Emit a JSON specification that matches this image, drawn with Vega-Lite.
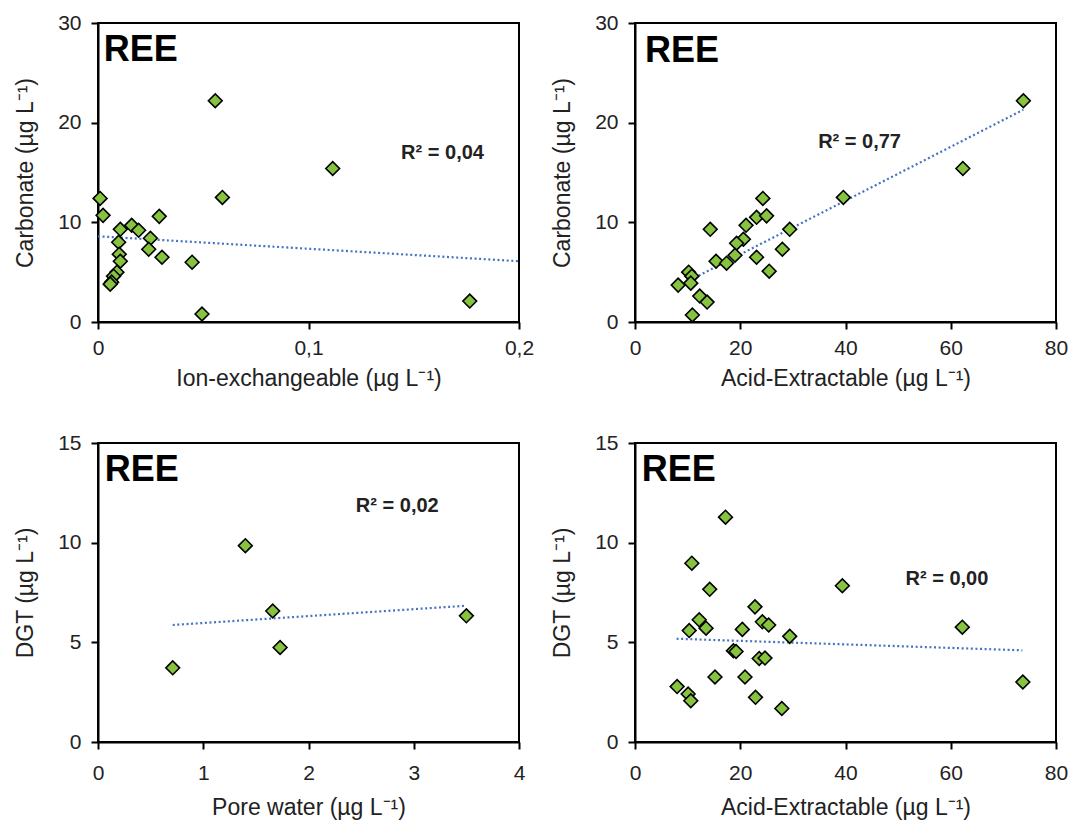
{
  "$schema": "https://vega.github.io/schema/vega-lite/v6.json",
  "background": "white",
  "padding": {"left": 13, "top": 11, "right": 3, "bottom": 5},
  "config": {
    "font": "Liberation Sans",
    "view": {"stroke": "black", "strokeWidth": 2},
    "axis": {
      "grid": false,
      "domainColor": "black",
      "domainWidth": 2,
      "tickColor": "black",
      "tickWidth": 2,
      "tickSize": 7,
      "labelFont": "Liberation Sans",
      "labelFontSize": 21,
      "labelColor": "#222",
      "labelFlush": false,
      "labelOverlap": false,
      "titleFont": "Liberation Sans",
      "titleFontSize": 23,
      "titleFontWeight": "normal",
      "titleColor": "#222"
    },
    "axisX": {"titlePadding": 9, "labelPadding": 8},
    "axisY": {"titlePadding": 20, "labelPadding": 10}
  },
  "datasets": {
    "p1": [
      {"x": 0.0557, "y": 22.2}, {"x": 0.1115, "y": 15.4}, {"x": 0.0591, "y": 12.5},
      {"x": 0.001, "y": 12.4}, {"x": 0.0024, "y": 10.7}, {"x": 0.0291, "y": 10.6},
      {"x": 0.016, "y": 9.7}, {"x": 0.0193, "y": 9.2}, {"x": 0.0106, "y": 9.3},
      {"x": 0.0249, "y": 8.4}, {"x": 0.0098, "y": 8.0}, {"x": 0.0241, "y": 7.3},
      {"x": 0.0101, "y": 6.8}, {"x": 0.0304, "y": 6.5}, {"x": 0.0106, "y": 6.1},
      {"x": 0.0447, "y": 6.0}, {"x": 0.009, "y": 5.0}, {"x": 0.0074, "y": 4.6},
      {"x": 0.0065, "y": 4.0}, {"x": 0.0058, "y": 3.8}, {"x": 0.0494, "y": 0.8},
      {"x": 0.1766, "y": 2.1}
    ],
    "t1": [{"x": 0, "y": 8.6}, {"x": 0.2, "y": 6.1}],
    "p2": [
      {"x": 73.8, "y": 22.2}, {"x": 62.3, "y": 15.4}, {"x": 39.6, "y": 12.5},
      {"x": 24.3, "y": 12.4}, {"x": 23.1, "y": 10.5}, {"x": 25.0, "y": 10.65},
      {"x": 21.1, "y": 9.7}, {"x": 14.3, "y": 9.3}, {"x": 29.4, "y": 9.3},
      {"x": 20.6, "y": 8.3}, {"x": 19.3, "y": 7.9}, {"x": 19.0, "y": 6.7},
      {"x": 28.0, "y": 7.3}, {"x": 15.4, "y": 6.1}, {"x": 17.4, "y": 5.9},
      {"x": 23.1, "y": 6.5}, {"x": 25.5, "y": 5.1}, {"x": 10.2, "y": 5.0},
      {"x": 10.8, "y": 4.6}, {"x": 10.6, "y": 3.9}, {"x": 8.2, "y": 3.7},
      {"x": 12.3, "y": 2.6}, {"x": 13.7, "y": 2.0}, {"x": 10.9, "y": 0.7}
    ],
    "t2": [{"x": 8.2, "y": 3.6}, {"x": 73.8, "y": 21.3}],
    "p3": [
      {"x": 1.40, "y": 9.85}, {"x": 1.66, "y": 6.57}, {"x": 1.73, "y": 4.74},
      {"x": 0.71, "y": 3.72}, {"x": 3.50, "y": 6.33}
    ],
    "t3": [{"x": 0.71, "y": 5.87}, {"x": 3.48, "y": 6.83}],
    "p4": [
      {"x": 17.2, "y": 11.28}, {"x": 10.8, "y": 8.97}, {"x": 39.4, "y": 7.84},
      {"x": 14.2, "y": 7.66}, {"x": 22.8, "y": 6.78}, {"x": 12.2, "y": 6.13},
      {"x": 13.5, "y": 5.71}, {"x": 10.3, "y": 5.59}, {"x": 24.2, "y": 6.03},
      {"x": 25.4, "y": 5.87}, {"x": 20.4, "y": 5.65}, {"x": 62.2, "y": 5.76},
      {"x": 29.4, "y": 5.30}, {"x": 18.7, "y": 4.58}, {"x": 19.2, "y": 4.54},
      {"x": 23.6, "y": 4.19}, {"x": 24.7, "y": 4.21}, {"x": 15.2, "y": 3.26},
      {"x": 20.9, "y": 3.26}, {"x": 73.7, "y": 3.01}, {"x": 8.0, "y": 2.78},
      {"x": 10.1, "y": 2.41}, {"x": 10.6, "y": 2.07}, {"x": 22.9, "y": 2.24},
      {"x": 27.9, "y": 1.68}
    ],
    "t4": [{"x": 7.9, "y": 5.18}, {"x": 73.6, "y": 4.60}]
  },
  "columns": 2,
  "bounds": "flush",
  "spacing": {"row": 121, "column": 116},
  "concat": [
    {
      "width": 421, "height": 299,
      "layer": [
        {
          "data": {"name": "t1"},
          "mark": {"type": "line", "color": "#4472C4", "strokeWidth": 2.2, "strokeDash": [2, 2.6]},
          "encoding": {
            "x": {"field": "x", "type": "quantitative", "scale": {"domain": [0, 0.2], "nice": false},
                  "axis": {"values": [0, 0.1, 0.2], "labelExpr": "datum.value == 0 ? '0' : replace(format(datum.value, '.1f'), '.', ',')", "title": "Ion-exchangeable (µg L⁻¹)"}},
            "y": {"field": "y", "type": "quantitative", "scale": {"domain": [0, 30], "nice": false},
                  "axis": {"values": [0, 10, 20, 30], "title": "Carbonate (µg L⁻¹)"}}
          }
        },
        {
          "data": {"name": "p1"},
          "mark": {"type": "point", "shape": "diamond", "filled": true, "size": 190, "fill": "#86c440", "stroke": "black", "strokeWidth": 1.6, "opacity": 1},
          "encoding": {
            "x": {"field": "x", "type": "quantitative"},
            "y": {"field": "y", "type": "quantitative"}
          }
        },
        {
          "data": {"values": [{}]},
          "mark": {"type": "text", "text": "REE", "fontSize": 36, "fontWeight": "bold", "align": "left", "baseline": "alphabetic", "color": "black"},
          "encoding": {"x": {"datum": 0.0027, "type": "quantitative"}, "y": {"datum": 26.2, "type": "quantitative"}}
        },
        {
          "data": {"values": [{}]},
          "mark": {"type": "text", "text": "R² = 0,04", "fontSize": 20, "fontWeight": "bold", "align": "left", "baseline": "alphabetic", "color": "#222"},
          "encoding": {"x": {"datum": 0.144, "type": "quantitative"}, "y": {"datum": 16.4, "type": "quantitative"}}
        }
      ]
    },
    {
      "width": 421, "height": 299,
      "layer": [
        {
          "data": {"name": "t2"},
          "mark": {"type": "line", "color": "#4472C4", "strokeWidth": 2.2, "strokeDash": [2, 2.6]},
          "encoding": {
            "x": {"field": "x", "type": "quantitative", "scale": {"domain": [0, 80], "nice": false},
                  "axis": {"values": [0, 20, 40, 60, 80], "title": "Acid-Extractable (µg L⁻¹)"}},
            "y": {"field": "y", "type": "quantitative", "scale": {"domain": [0, 30], "nice": false},
                  "axis": {"values": [0, 10, 20, 30], "title": "Carbonate (µg L⁻¹)"}}
          }
        },
        {
          "data": {"name": "p2"},
          "mark": {"type": "point", "shape": "diamond", "filled": true, "size": 190, "fill": "#86c440", "stroke": "black", "strokeWidth": 1.6, "opacity": 1},
          "encoding": {
            "x": {"field": "x", "type": "quantitative"},
            "y": {"field": "y", "type": "quantitative"}
          }
        },
        {
          "data": {"values": [{}]},
          "mark": {"type": "text", "text": "REE", "fontSize": 36, "fontWeight": "bold", "align": "left", "baseline": "alphabetic", "color": "black"},
          "encoding": {"x": {"datum": 1.9, "type": "quantitative"}, "y": {"datum": 26.1, "type": "quantitative"}}
        },
        {
          "data": {"values": [{}]},
          "mark": {"type": "text", "text": "R² = 0,77", "fontSize": 20, "fontWeight": "bold", "align": "left", "baseline": "alphabetic", "color": "#222"},
          "encoding": {"x": {"datum": 34.8, "type": "quantitative"}, "y": {"datum": 17.5, "type": "quantitative"}}
        }
      ]
    },
    {
      "width": 421, "height": 299,
      "layer": [
        {
          "data": {"name": "t3"},
          "mark": {"type": "line", "color": "#4472C4", "strokeWidth": 2.2, "strokeDash": [2, 2.6]},
          "encoding": {
            "x": {"field": "x", "type": "quantitative", "scale": {"domain": [0, 4], "nice": false},
                  "axis": {"values": [0, 1, 2, 3, 4], "format": "d", "labelPadding": 13, "titlePadding": 13, "title": "Pore water (µg L⁻¹)"}},
            "y": {"field": "y", "type": "quantitative", "scale": {"domain": [0, 15], "nice": false},
                  "axis": {"values": [0, 5, 10, 15], "title": "DGT (µg L⁻¹)"}}
          }
        },
        {
          "data": {"name": "p3"},
          "mark": {"type": "point", "shape": "diamond", "filled": true, "size": 190, "fill": "#86c440", "stroke": "black", "strokeWidth": 1.6, "opacity": 1},
          "encoding": {
            "x": {"field": "x", "type": "quantitative"},
            "y": {"field": "y", "type": "quantitative"}
          }
        },
        {
          "data": {"values": [{}]},
          "mark": {"type": "text", "text": "REE", "fontSize": 36, "fontWeight": "bold", "align": "left", "baseline": "alphabetic", "color": "black"},
          "encoding": {"x": {"datum": 0.064, "type": "quantitative"}, "y": {"datum": 13.1, "type": "quantitative"}}
        },
        {
          "data": {"values": [{}]},
          "mark": {"type": "text", "text": "R² = 0,02", "fontSize": 20, "fontWeight": "bold", "align": "left", "baseline": "alphabetic", "color": "#222"},
          "encoding": {"x": {"datum": 2.45, "type": "quantitative"}, "y": {"datum": 11.55, "type": "quantitative"}}
        }
      ]
    },
    {
      "width": 421, "height": 299,
      "layer": [
        {
          "data": {"name": "t4"},
          "mark": {"type": "line", "color": "#4472C4", "strokeWidth": 2.2, "strokeDash": [2, 2.6]},
          "encoding": {
            "x": {"field": "x", "type": "quantitative", "scale": {"domain": [0, 80], "nice": false},
                  "axis": {"values": [0, 20, 40, 60, 80], "labelPadding": 13, "titlePadding": 13, "title": "Acid-Extractable (µg L⁻¹)"}},
            "y": {"field": "y", "type": "quantitative", "scale": {"domain": [0, 15], "nice": false},
                  "axis": {"values": [0, 5, 10, 15], "title": "DGT (µg L⁻¹)"}}
          }
        },
        {
          "data": {"name": "p4"},
          "mark": {"type": "point", "shape": "diamond", "filled": true, "size": 190, "fill": "#86c440", "stroke": "black", "strokeWidth": 1.6, "opacity": 1},
          "encoding": {
            "x": {"field": "x", "type": "quantitative"},
            "y": {"field": "y", "type": "quantitative"}
          }
        },
        {
          "data": {"values": [{}]},
          "mark": {"type": "text", "text": "REE", "fontSize": 36, "fontWeight": "bold", "align": "left", "baseline": "alphabetic", "color": "black"},
          "encoding": {"x": {"datum": 1.27, "type": "quantitative"}, "y": {"datum": 13.1, "type": "quantitative"}}
        },
        {
          "data": {"values": [{}]},
          "mark": {"type": "text", "text": "R² = 0,00", "fontSize": 20, "fontWeight": "bold", "align": "left", "baseline": "alphabetic", "color": "#222"},
          "encoding": {"x": {"datum": 51.4, "type": "quantitative"}, "y": {"datum": 7.9, "type": "quantitative"}}
        }
      ]
    }
  ]
}
